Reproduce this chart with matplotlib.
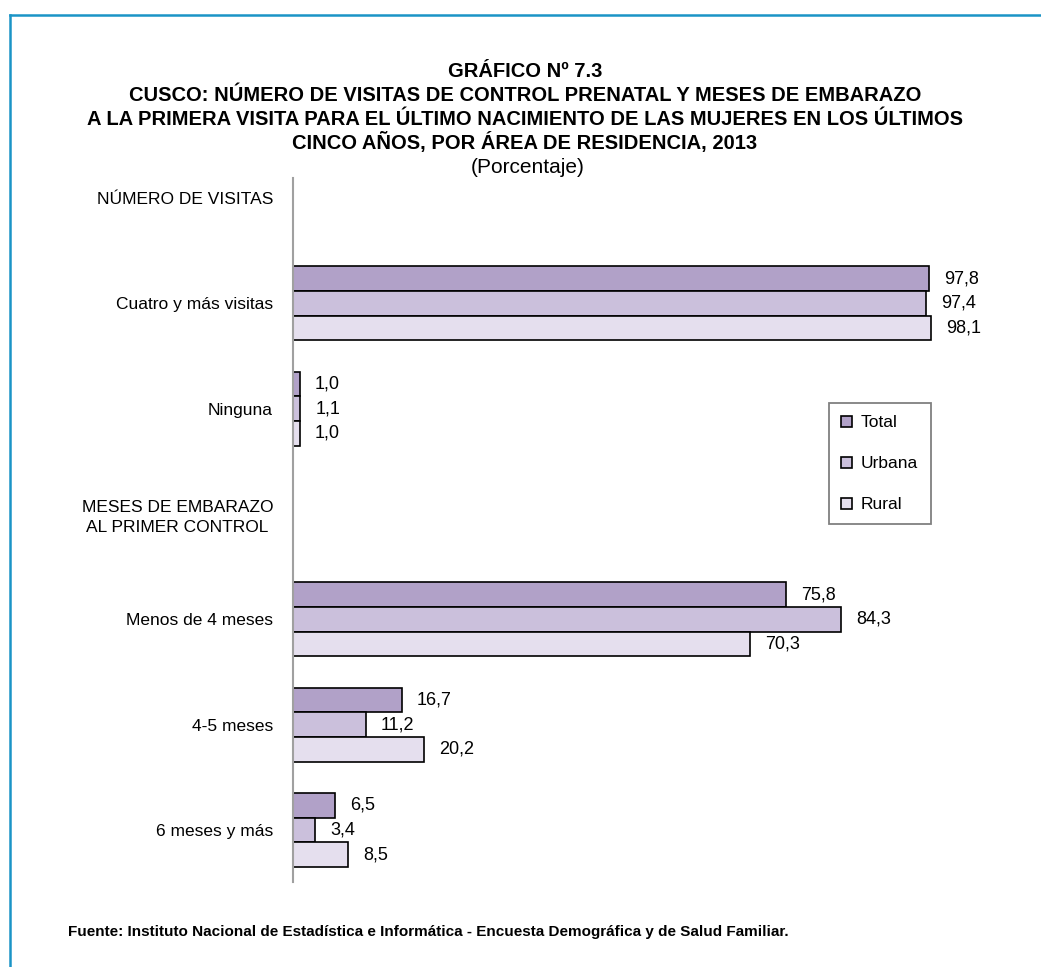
import numpy as np
import matplotlib.pyplot as plt
from matplotlib.patches import Patch
from matplotlib.lines import Line2D

plt.rcParams['font.family'] = ['Liberation Sans', 'DejaVu Sans']

###############################################################################
# Data (header rows carry no bars)
rows = ['NÚMERO DE VISITAS', 'Cuatro y más visitas', 'Ninguna',
        'MESES DE EMBARAZO\nAL PRIMER CONTROL', 'Menos de 4 meses',
        '4-5 meses', '6 meses y más']
total = [np.nan, 97.8, 1.0, np.nan, 75.8, 16.7, 6.5]
urbana = [np.nan, 97.4, 1.1, np.nan, 84.3, 11.2, 3.4]
rural = [np.nan, 98.1, 1.0, np.nan, 70.3, 20.2, 8.5]
series_names = ['Total', 'Urbana', 'Rural']
colors = ['#b1a1c8', '#cbc0dc', '#e5dfee']

title_lines = ['GRÁFICO Nº 7.3',
               'CUSCO: NÚMERO DE VISITAS DE CONTROL PRENATAL Y MESES DE EMBARAZO',
               'A LA PRIMERA VISITA PARA EL ÚLTIMO NACIMIENTO DE LAS MUJERES EN LOS ÚLTIMOS',
               'CINCO AÑOS, POR ÁREA DE RESIDENCIA, 2013']
subtitle = '(Porcentaje)'
source = ('Fuente: Instituto Nacional de Estadística e Informática - '
          'Encuesta Demográfica y de Salud Familiar.')

###############################################################################
W, H = 1041, 967
fig = plt.figure(figsize=(W / 100, H / 100), dpi=100)
ax = fig.add_axes([293 / W, 1 - 882 / H, 707 / W, 704 / H])

y = np.arange(len(rows))
bar_h = 0.2345
for k, (vals, name, col) in enumerate(zip([total, urbana, rural], series_names, colors)):
    pos = y + (k - 1) * bar_h
    ax.barh(pos, vals, height=bar_h, color=col, edgecolor='black',
            linewidth=1.2, label=name)
    for yy, v in zip(pos, vals):
        if np.isnan(v):
            continue
        ax.annotate(f'{v:.1f}'.replace('.', ','), xy=(v, yy),
                    xytext=(11, 0), textcoords='offset points',
                    ha='left', va='center', fontsize=13)

ax.set_xlim(0, 707 / 6.5)
ax.set_ylim(6.494, -0.19)

# Category labels
ax.set_yticks(y)
ax.set_yticklabels(rows, fontsize=12.5)
for lbl in ax.get_yticklabels():
    lbl.set_multialignment('center')
    lbl.set_linespacing(1.4)
ax.tick_params(axis='y', length=0, pad=14.4)
ax.set_xticks([])

for s in ['top', 'right', 'bottom']:
    ax.spines[s].set_visible(False)
ax.spines['left'].set_color('#a0a0a0')
ax.spines['left'].set_linewidth(1.5)

# Legend
handles = [Patch(facecolor=c, edgecolor='black', linewidth=1.2, label=n)
           for c, n in zip(colors, series_names)]
leg = fig.legend(handles=handles, loc='upper left',
                 bbox_to_anchor=(829 / W, 1 - 403 / H), borderaxespad=0,
                 fontsize=12.5, handlelength=0.6, handleheight=0.6,
                 handletextpad=0.55, labelspacing=1.5, borderpad=0.7,
                 fancybox=False, framealpha=1)
leg.get_frame().set_edgecolor('#808080')
leg.get_frame().set_linewidth(1.3)

# Titles (baselines evenly spaced)
for txt, yb in zip(title_lines, [77, 101, 125, 149]):
    fig.text(525 / W, 1 - yb / H, txt, ha='center', va='baseline',
             fontsize=14.5, fontweight='bold')
fig.text(528 / W, 1 - 173 / H, subtitle, ha='center', va='baseline', fontsize=15)

# Source
fig.text(68 / W, 1 - 932 / H, source, ha='left', va='center',
         fontsize=11, fontweight='bold')

# Blue frame (left and top edges)
frame_col = '#1a94c6'
fig.add_artist(Line2D([10 / W, 10 / W], [0, 1 - 15 / H], color=frame_col,
                      linewidth=1.8, transform=fig.transFigure))
fig.add_artist(Line2D([10 / W, 1], [1 - 15 / H, 1 - 15 / H], color=frame_col,
                      linewidth=1.8, transform=fig.transFigure))

fig.savefig('out.png', dpi=100)
